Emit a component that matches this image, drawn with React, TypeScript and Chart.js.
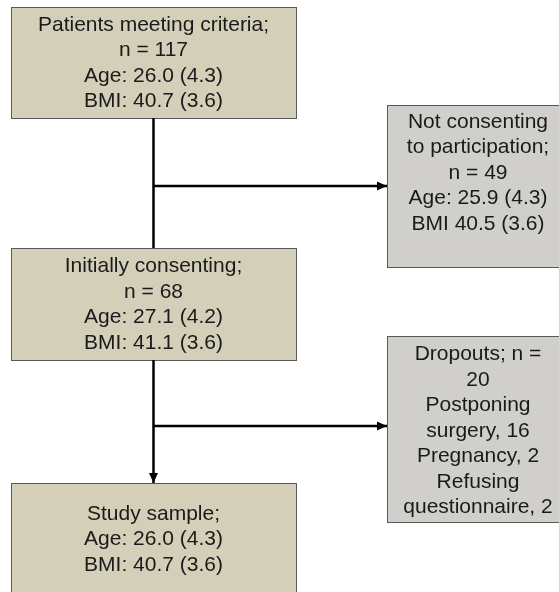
import React, { useEffect, useRef } from "react";
import { Chart, registerables } from "chart.js";

Chart.register(...registerables);

// ---- Data ----
const stageNames = [
  "Patients meeting criteria",
  "Not consenting to participation",
  "Initially consenting",
  "Dropouts",
  "Study sample",
];
const stageN = [117, 49, 68, 20, null];
const ageMean = [26.0, 25.9, 27.1, null, 26.0];
const ageSD = [4.3, 4.3, 4.2, null, 4.3];
const bmiMean = [40.7, 40.5, 41.1, null, 40.7];
const bmiSD = [3.6, 3.6, 3.6, null, 3.6];
const dropoutReasons = ["Postponing surgery", "Pregnancy", "Refusing questionnaire"];
const dropoutCounts = [16, 2, 2];

const f1 = (v: number | null) => (v == null ? "" : v.toFixed(1));
const ageTxt = (i: number) => `Age: ${f1(ageMean[i])} (${f1(ageSD[i])})`;
const bmiTxt = (i: number, colon = true) => `BMI${colon ? ":" : ""} ${f1(bmiMean[i])} (${f1(bmiSD[i])})`;

const boxTexts: string[][] = [
  [`${stageNames[0]};`, `n = ${stageN[0]}`, ageTxt(0), bmiTxt(0)],
  ["Not consenting", "to participation;", `n = ${stageN[1]}`, ageTxt(1), bmiTxt(1, false)],
  [`${stageNames[2]};`, `n = ${stageN[2]}`, ageTxt(2), bmiTxt(2)],
  [
    `${stageNames[3]}; n =`,
    `${stageN[3]}`,
    "Postponing",
    `surgery, ${dropoutCounts[0]}`,
    `${dropoutReasons[1]}, ${dropoutCounts[1]}`,
    "Refusing",
    `questionnaire, ${dropoutCounts[2]}`,
  ],
  [`${stageNames[4]};`, ageTxt(4), bmiTxt(4)],
];

// ---- Layout (diagram coordinates, same units as the hidden scales) ----
const TAN = "#d3cfb8";
const GREY = "#d1cfcc";
const boxLayout = [
  { x0: 11, x1: 296, y0: 7, y1: 118, fill: TAN, pad: 18 },
  { x0: 387, x1: 569, y0: 105, y1: 267, fill: GREY, pad: 17 },
  { x0: 11, x1: 296, y0: 248, y1: 360, fill: TAN, pad: 18.5 },
  { x0: 387, x1: 569, y0: 336, y1: 522, fill: GREY, pad: 18.5 },
  { x0: 11, x1: 296, y0: 483, y1: 620, fill: TAN, pad: 31 },
];
const connectors = [
  { pts: [[153.5, 118], [153.5, 248]], arrow: false },
  { pts: [[153.5, 186], [387, 186]], arrow: true },
  { pts: [[153.5, 360], [153.5, 483]], arrow: true },
  { pts: [[153.5, 426], [387, 426]], arrow: true },
];
const LINE_H = 25.5;
const FONT = '21px "Liberation Sans", Arial, sans-serif';

const flowPlugin = {
  id: "flowBoxes",
  beforeDatasetsDraw(chart: any) {
    const { ctx, scales } = chart;
    const xs = scales.x;
    const ys = scales.y;
    ctx.save();
    boxLayout.forEach((b, i) => {
      const px0 = Math.round(xs.getPixelForValue(b.x0)) + 0.5;
      const px1 = Math.round(xs.getPixelForValue(b.x1)) + 0.5;
      const py0 = Math.round(ys.getPixelForValue(b.y0)) + 0.5;
      const py1 = Math.round(ys.getPixelForValue(b.y1)) + 0.5;
      ctx.fillStyle = b.fill;
      ctx.fillRect(px0, py0, px1 - px0, py1 - py0);
      ctx.lineWidth = 1;
      ctx.strokeStyle = "#595959";
      ctx.strokeRect(px0, py0, px1 - px0, py1 - py0);
      ctx.fillStyle = "#1a1a1a";
      ctx.font = FONT;
      ctx.textAlign = "center";
      ctx.textBaseline = "middle";
      const cx = xs.getPixelForValue((b.x0 + b.x1) / 2);
      boxTexts[i].forEach((t, k) => {
        const cy = ys.getPixelForValue(b.y0 + b.pad + k * LINE_H);
        ctx.fillText(t, cx, cy);
      });
    });
    ctx.restore();
  },
  afterDatasetsDraw(chart: any) {
    const { ctx, scales } = chart;
    const xs = scales.x;
    const ys = scales.y;
    ctx.save();
    ctx.fillStyle = "#000";
    connectors.forEach((c) => {
      if (!c.arrow) return;
      const [a, b] = c.pts;
      const ax = xs.getPixelForValue(a[0]);
      const ay = ys.getPixelForValue(a[1]);
      const bx = xs.getPixelForValue(b[0]);
      const by = ys.getPixelForValue(b[1]);
      const ang = Math.atan2(by - ay, bx - ax);
      const len = 10;
      const half = 4.5;
      ctx.beginPath();
      ctx.moveTo(bx, by);
      ctx.lineTo(bx - len * Math.cos(ang) - half * Math.sin(ang), by - len * Math.sin(ang) + half * Math.cos(ang));
      ctx.lineTo(bx - len * Math.cos(ang) + half * Math.sin(ang), by - len * Math.sin(ang) - half * Math.cos(ang));
      ctx.closePath();
      ctx.fill();
    });
    ctx.restore();
  },
};

export default function App() {
  const ref = useRef<HTMLCanvasElement | null>(null);
  useEffect(() => {
    if (!ref.current) return;
    const chart = new Chart(ref.current, {
      type: "scatter",
      data: {
        datasets: connectors.map((c) => ({
          data: c.pts.map(([x, y]) => ({ x, y })),
          showLine: true,
          borderColor: "#000",
          borderWidth: 2.5,
          pointRadius: 0,
          pointHoverRadius: 0,
          fill: false,
        })),
      },
      options: {
        animation: false,
        responsive: false,
        devicePixelRatio: 1,
        layout: { padding: 0 },
        events: [],
        plugins: { legend: { display: false }, tooltip: { enabled: false } },
        scales: {
          x: { type: "linear", min: 0, max: 559, display: false },
          y: { type: "linear", min: 0, max: 592, reverse: true, display: false },
        },
      },
      plugins: [flowPlugin],
    });
    return () => chart.destroy();
  }, []);
  return (
    <div style={{ position: "fixed", left: 0, top: 0, width: 559, height: 592, background: "#fff" }}>
      <canvas ref={ref} width={559} height={592} style={{ display: "block" }} />
    </div>
  );
}
